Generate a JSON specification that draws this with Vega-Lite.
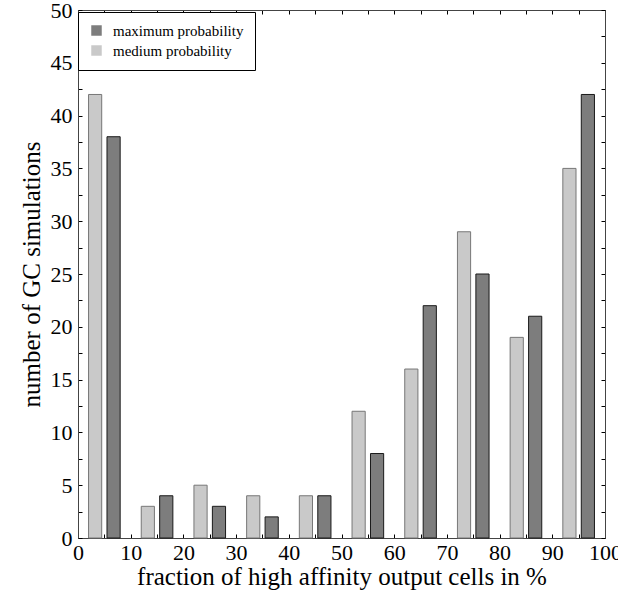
{
  "$schema": "https://vega.github.io/schema/vega-lite/v6.json",
  "width": 527,
  "height": 528,
  "autosize": {"type": "none"},
  "padding": {"left": 78, "top": 10, "right": 13, "bottom": 61},
  "background": "white",
  "config": {
    "font": "Liberation Serif",
    "view": {"stroke": "#000", "strokeWidth": 1},
    "axis": {
      "grid": false,
      "domainColor": "#444",
      "tickColor": "#000",
      "tickSize": -4,
      "labelFont": "Liberation Serif",
      "labelFontSize": 22,
      "labelColor": "#000",
      "titleFont": "Liberation Serif",
      "titleFontSize": 25,
      "titleFontWeight": "normal",
      "titleColor": "#000"
    }
  },
  "data": {
    "values": [
      {"series": "medium probability", "lo": 2, "hi": 4.5, "count": 42},
      {"series": "maximum probability", "lo": 5.5, "hi": 8, "count": 38},
      {"series": "medium probability", "lo": 12, "hi": 14.5, "count": 3},
      {"series": "maximum probability", "lo": 15.5, "hi": 18, "count": 4},
      {"series": "medium probability", "lo": 22, "hi": 24.5, "count": 5},
      {"series": "maximum probability", "lo": 25.5, "hi": 28, "count": 3},
      {"series": "medium probability", "lo": 32, "hi": 34.5, "count": 4},
      {"series": "maximum probability", "lo": 35.5, "hi": 38, "count": 2},
      {"series": "medium probability", "lo": 42, "hi": 44.5, "count": 4},
      {"series": "maximum probability", "lo": 45.5, "hi": 48, "count": 4},
      {"series": "medium probability", "lo": 52, "hi": 54.5, "count": 12},
      {"series": "maximum probability", "lo": 55.5, "hi": 58, "count": 8},
      {"series": "medium probability", "lo": 62, "hi": 64.5, "count": 16},
      {"series": "maximum probability", "lo": 65.5, "hi": 68, "count": 22},
      {"series": "medium probability", "lo": 72, "hi": 74.5, "count": 29},
      {"series": "maximum probability", "lo": 75.5, "hi": 78, "count": 25},
      {"series": "medium probability", "lo": 82, "hi": 84.5, "count": 19},
      {"series": "maximum probability", "lo": 85.5, "hi": 88, "count": 21},
      {"series": "medium probability", "lo": 92, "hi": 94.5, "count": 35},
      {"series": "maximum probability", "lo": 95.5, "hi": 98, "count": 42}
    ]
  },
  "layer": [
    {
      "mark": {"type": "bar", "strokeWidth": 1},
      "encoding": {
        "x": {
          "field": "lo", "type": "quantitative",
          "scale": {"domain": [0, 100], "nice": false, "zero": false},
          "axis": {
            "orient": "bottom",
            "values": [0,5,10,15,20,25,30,35,40,45,50,55,60,65,70,75,80,85,90,95,100],
            "labelExpr": "datum.value % 10 == 0 ? datum.label : ''",
            "labelPadding": 8,
            "labelFlush": false,
            "labelOverlap": false,
            "title": "fraction of high affinity output cells in %",
            "titlePadding": 1
          }
        },
        "x2": {"field": "hi"},
        "y": {
          "field": "count", "type": "quantitative",
          "scale": {"domain": [0, 50], "nice": false},
          "axis": {
            "orient": "left",
            "values": [0,2.5,5,7.5,10,12.5,15,17.5,20,22.5,25,27.5,30,32.5,35,37.5,40,42.5,45,47.5,50],
            "labelExpr": "datum.value % 5 == 0 ? datum.label : ''",
            "labelPadding": 10,
            "labelFlush": false,
            "labelOverlap": false,
            "title": "number of GC simulations",
            "titlePadding": 6
          }
        },
        "y2": {"datum": 0},
        "fill": {
          "field": "series", "type": "nominal",
          "scale": {"domain": ["maximum probability", "medium probability"], "range": ["#7d7d7d", "#c9c9c9"]},
          "legend": {
            "title": null,
            "orient": "none",
            "legendX": 0,
            "legendY": 2,
            "strokeColor": "#000",
            "fillColor": "white",
            "padding": 11,
            "symbolType": "square",
            "symbolSize": 110,
            "symbolStrokeWidth": 0,
            "labelFont": "Liberation Serif",
            "labelFontSize": 15,
            "labelColor": "#000",
            "rowPadding": 4,
            "labelOffset": 9
          }
        },
        "stroke": {
          "field": "series", "type": "nominal",
          "scale": {"domain": ["maximum probability", "medium probability"], "range": ["#1a1a1a", "#777777"]},
          "legend": null
        }
      }
    },
    {
      "mark": {"type": "bar", "opacity": 0},
      "encoding": {
        "x": {
          "field": "lo", "type": "quantitative",
          "scale": {"domain": [0, 100], "nice": false, "zero": false},
          "axis": {
            "orient": "top",
            "values": [0,5,10,15,20,25,30,35,40,45,50,55,60,65,70,75,80,85,90,95,100],
            "labels": false, "title": null
          }
        },
        "x2": {"field": "hi"},
        "y": {
          "field": "count", "type": "quantitative",
          "scale": {"domain": [0, 50], "nice": false},
          "axis": {
            "orient": "right",
            "values": [0,2.5,5,7.5,10,12.5,15,17.5,20,22.5,25,27.5,30,32.5,35,37.5,40,42.5,45,47.5,50],
            "labels": false, "title": null
          }
        },
        "y2": {"datum": 0}
      }
    }
  ],
  "resolve": {"axis": {"x": "independent", "y": "independent"}}
}
